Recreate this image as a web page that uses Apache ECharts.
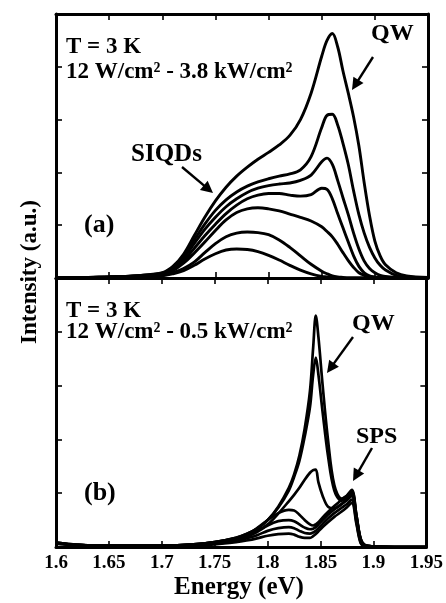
<!DOCTYPE html>
<html><head><meta charset="utf-8">
<script src="https://cdn.jsdelivr.net/npm/echarts@6/dist/echarts.min.js"></script>
<style>html,body{margin:0;padding:0;background:#fff}#c{width:446px;height:603px}</style>
</head><body><div id="c"></div>
<script>
// ---- Panel (a): 12 W/cm2 - 3.8 kW/cm2 ----
const energyA = [1.60,1.65,1.68,1.70,1.71,1.72,1.73,1.74,1.75,1.76,1.77,1.78,1.79,1.80,1.81,1.82,1.83,1.84,1.85,1.855,1.86,1.865,1.87,1.875,1.88,1.885,1.89,1.895,1.90,1.905,1.91,1.92,1.93,1.95];
const a1 = [0,0.02,0.05,0.10,0.22,0.45,0.80,1.15,1.46,1.72,1.93,2.10,2.25,2.38,2.52,2.70,3.00,3.50,4.20,4.50,4.63,4.38,3.92,3.50,3.05,2.50,1.80,1.18,0.70,0.42,0.25,0.10,0.04,0.01];
const a2 = [0,0.02,0.05,0.09,0.20,0.42,0.72,1.02,1.28,1.48,1.63,1.74,1.82,1.88,1.93,1.97,2.05,2.30,2.85,3.08,3.10,2.90,2.55,2.15,1.65,1.20,0.85,0.58,0.38,0.24,0.15,0.05,0.02,0];
const a3 = [0,0.02,0.04,0.08,0.18,0.38,0.65,0.92,1.15,1.35,1.50,1.62,1.70,1.75,1.78,1.80,1.85,1.95,2.20,2.27,2.15,1.85,1.52,1.20,0.85,0.55,0.32,0.18,0.10,0.05,0.03,0.01,0,0];
const a4 = [0,0.02,0.04,0.07,0.16,0.33,0.56,0.80,1.02,1.22,1.38,1.50,1.57,1.60,1.60,1.57,1.55,1.58,1.70,1.68,1.50,1.22,0.95,0.68,0.42,0.22,0.10,0.04,0.02,0.01,0,0,0,0];
const a5 = [0,0.02,0.04,0.06,0.14,0.28,0.47,0.68,0.90,1.10,1.24,1.31,1.33,1.31,1.27,1.21,1.15,1.08,0.97,0.88,0.78,0.64,0.48,0.33,0.20,0.10,0.05,0.02,0.01,0,0,0,0,0];
const a6 = [0,0.01,0.03,0.05,0.10,0.18,0.30,0.48,0.65,0.78,0.85,0.87,0.86,0.82,0.72,0.58,0.42,0.26,0.13,0.08,0.04,0.02,0.01,0,0,0,0,0,0,0,0,0,0,0];
const a7 = [0,0.01,0.02,0.04,0.08,0.14,0.24,0.36,0.46,0.53,0.55,0.54,0.50,0.43,0.34,0.24,0.15,0.08,0.03,0.02,0.01,0,0,0,0,0,0,0,0,0,0,0,0,0];
const seriesA = [a1,a2,a3,a4,a5,a6,a7];

// ---- Panel (b): 12 W/cm2 - 0.5 kW/cm2 ----
const energyB = [1.60,1.62,1.65,1.70,1.73,1.75,1.77,1.78,1.79,1.80,1.81,1.82,1.825,1.83,1.835,1.84,1.843,1.8455,1.848,1.852,1.857,1.863,1.87,1.875,1.8795,1.884,1.888,1.892,1.90,1.92,1.95];
const b1 = [0.08,0.04,0.02,0.02,0.05,0.09,0.17,0.24,0.34,0.50,0.75,1.10,1.35,1.70,2.20,2.90,3.70,4.30,3.90,3.00,2.00,1.15,0.90,0.95,1.04,0.58,0.15,0.04,0.01,0,0];
const b2 = [0.08,0.04,0.02,0.02,0.05,0.09,0.17,0.24,0.34,0.50,0.73,1.05,1.30,1.60,2.05,2.60,3.20,3.52,3.20,2.50,1.70,1.05,0.86,0.93,1.02,0.55,0.13,0.03,0.01,0,0];
const b3 = [0.08,0.04,0.02,0.02,0.05,0.09,0.16,0.22,0.30,0.42,0.62,0.85,0.97,1.10,1.25,1.38,1.43,1.44,1.20,0.95,0.75,0.72,0.80,0.90,1.00,0.55,0.14,0.03,0.01,0,0];
const b4 = [0.07,0.04,0.02,0.02,0.04,0.08,0.15,0.22,0.35,0.50,0.63,0.69,0.68,0.60,0.50,0.42,0.40,0.42,0.46,0.55,0.65,0.76,0.88,0.96,1.06,0.58,0.13,0.03,0.01,0,0];
const b5 = [0.07,0.04,0.02,0.02,0.04,0.07,0.13,0.19,0.28,0.40,0.48,0.50,0.48,0.42,0.36,0.33,0.34,0.37,0.42,0.50,0.60,0.70,0.80,0.87,0.95,0.50,0.10,0.02,0.01,0,0];
const b6 = [0.06,0.03,0.02,0.02,0.03,0.06,0.11,0.16,0.22,0.30,0.35,0.37,0.35,0.30,0.26,0.25,0.27,0.30,0.35,0.43,0.53,0.63,0.73,0.80,0.88,0.45,0.08,0.02,0.01,0,0];
const b7 = [0.06,0.03,0.02,0.02,0.03,0.05,0.09,0.12,0.16,0.21,0.24,0.25,0.23,0.19,0.17,0.17,0.20,0.24,0.29,0.37,0.46,0.56,0.66,0.74,0.82,0.42,0.07,0.02,0.01,0,0];
const seriesB = [b1,b2,b3,b4,b5,b6,b7];

const xTicks = [1.6,1.65,1.7,1.75,1.8,1.85,1.9,1.95];

const FONT = 'Liberation Serif';
const chart = echarts.init(document.getElementById('c'), null, {renderer:'canvas'});

function xAx(grid, pos, labels){
  return {type:'value', gridIndex:grid, position:pos, min:xTicks[0], max:xTicks[xTicks.length-1], interval:0.05,
    axisLine:{show:true, onZero:false, lineStyle:{color:'#000', width:3}},
    axisTick:{show:true, inside:true, length:6, lineStyle:{color:'#000', width:1.6}},
    axisLabel:{show:labels, color:'#000', fontFamily:FONT, fontWeight:'bold', fontSize:19, margin:7,
      formatter:v=>String(Math.round(v*100)/100)},
    splitLine:{show:false}};
}
function yAx(grid, pos){
  return {type:'value', gridIndex:grid, position:pos, min:0, max:5, interval:1,
    axisLine:{show:true, onZero:false, lineStyle:{color:'#000', width:3}},
    axisTick:{show:true, inside:true, length:6, lineStyle:{color:'#000', width:1.6}},
    axisLabel:{show:false}, splitLine:{show:false}};
}
const series = [];
seriesA.forEach(arr=>series.push({type:'line', xAxisIndex:0, yAxisIndex:0, data:energyA.map((e,i)=>[e,arr[i]]),
  smooth:0.35, symbol:'none', lineStyle:{color:'#000', width:2.9}, silent:true}));
seriesB.forEach(arr=>series.push({type:'line', xAxisIndex:2, yAxisIndex:2, data:energyB.map((e,i)=>[e,arr[i]]),
  smooth:0.35, symbol:'none', lineStyle:{color:'#000', width:2.7}, silent:true}));

function txt(x,y,s,size){
  return {type:'text', left:x, top:y-size/2, style:{text:s, fill:'#000', font:'bold '+size+'px "'+FONT+'"'}};
}
function arrow(x1,y1,x2,y2){
  const dx=x2-x1, dy=y2-y1, L=Math.hypot(dx,dy), ux=dx/L, uy=dy/L, hl=12, hw=6;
  const bx=x2-ux*hl, by=y2-uy*hl;
  return [{type:'line', shape:{x1:x1,y1:y1,x2:bx+ux*2,y2:by+uy*2}, style:{stroke:'#000', lineWidth:2.4}},
    {type:'polygon', shape:{points:[[x2,y2],[bx-uy*hw,by+ux*hw],[bx+uy*hw,by-ux*hw]]}, style:{fill:'#000'}}];
}
const graphic = [
  txt(66,47,'T = 3 K',23),
  txt(66,72,'12 W/cm² - 3.8 kW/cm²',23),
  txt(131,155,'SIQDs',25),
  txt(371,34,'QW',24),
  txt(84,225,'(a)',26),
  txt(66,311,'T = 3 K',23),
  txt(66,332,'12 W/cm² - 0.5 kW/cm²',23),
  txt(352,324,'QW',24),
  txt(356,437,'SPS',24),
  txt(84,493,'(b)',26),
  ...arrow(373,57,352,90),
  ...arrow(182,167,213,193),
  ...arrow(353,337,327,373),
  ...arrow(372,448,353,481),
  {type:'text', x:30, y:272, rotation:Math.PI/2, style:{text:'Intensity (a.u.)', fill:'#000', font:'bold 23px "'+FONT+'"', align:'center', verticalAlign:'middle'}},
  {type:'text', x:239, y:588, style:{text:'Energy (eV)', fill:'#000', font:'bold 25px "'+FONT+'"', align:'center', verticalAlign:'middle'}}
];

chart.setOption({
  animation:false,
  grid:[{left:56, right:18, top:14, height:264},{left:56, right:18, top:278, height:269}],
  xAxis:[xAx(0,'bottom',false), xAx(0,'top',false), xAx(1,'bottom',true), xAx(1,'top',false)],
  yAxis:[yAx(0,'left'), yAx(0,'right'), yAx(1,'left'), yAx(1,'right')],
  series: series,
  graphic: graphic
});
</script></body></html>
